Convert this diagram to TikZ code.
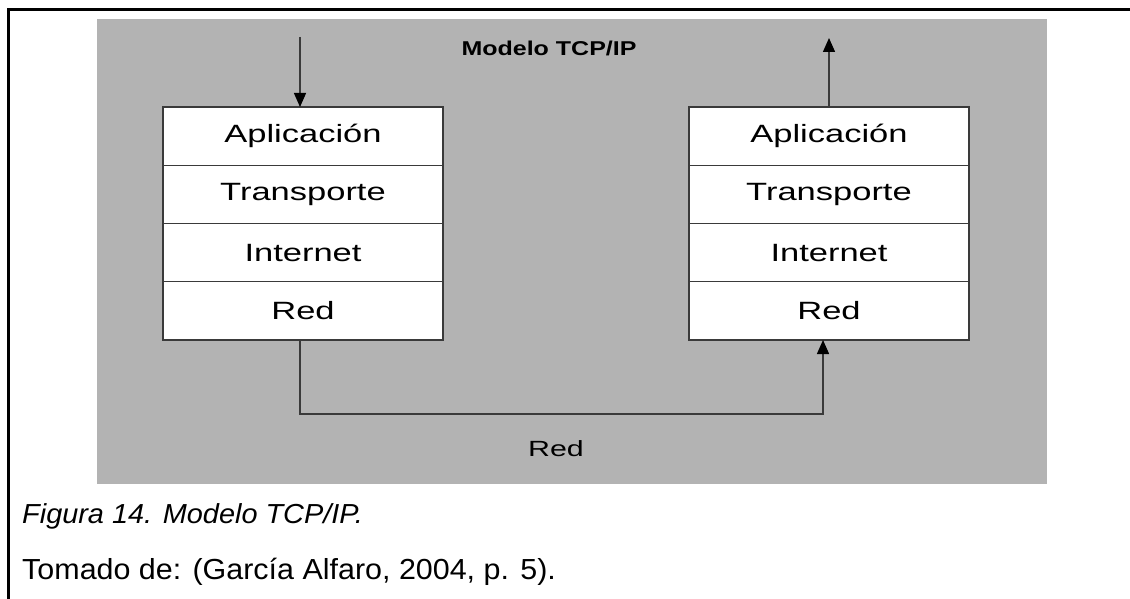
\documentclass[tikz,border=0pt]{standalone}
\usepackage{fontspec}
\setmainfont{Liberation Sans}
\newfontfamily\widesans[FakeStretch=1.38]{Liberation Sans}
\newfontfamily\titlesans[FakeStretch=1.25]{Liberation Sans}
\newfontfamily\capsans[FakeStretch=1.05]{Liberation Sans}
\usetikzlibrary{arrows.meta}
\definecolor{panelgray}{HTML}{B3B3B3}
\definecolor{edgegray}{HTML}{3A3A3A}
\begin{document}
\begin{tikzpicture}[x=1pt,y=-1pt,
  layer/.style={draw=edgegray, line width=1.4pt, fill=white,
    minimum width=280pt, minimum height=58.25pt, inner sep=0pt, outer sep=0pt,
    font=\widesans\fontsize{25}{25}\selectfont, text=black},
  flow/.style={draw=edgegray, line width=1.4pt},
  tip/.style={-{Triangle[length=14pt,width=12pt,fill=black,color=black]}},
  frameline/.style={line width=3pt, line cap=rect}]
  \useasboundingbox (0,0) rectangle (1130,599);
  % outer frame
  \draw[frameline] (8,599) -- (8,10) -- (1130,10);
  % panel
  \fill[panelgray] (97,19) rectangle (1047,484);
  \node[font=\titlesans\bfseries\fontsize{20}{20}\selectfont] (title) at (549,48) {Modelo TCP/IP};
  % left stack
  \node[layer, anchor=north west] (la) at (163,107) {Aplicación};
  \node[layer, anchor=north] (lt) at (la.south) {Transporte};
  \node[layer, anchor=north] (li) at (lt.south) {Internet};
  \node[layer, anchor=north] (lr) at (li.south) {Red};
  % right stack
  \node[layer, anchor=north west] (ra) at (689,107) {Aplicación};
  \node[layer, anchor=north] (rt) at (ra.south) {Transporte};
  \node[layer, anchor=north] (ri) at (rt.south) {Internet};
  \node[layer, anchor=north] (rr) at (ri.south) {Red};
  % connectors
  \coordinate (inL) at (300,37);
  \coordinate (outR) at (829,38);
  \draw[flow, tip] (inL) -- (inL |- la.north);
  \draw[flow, tip] (outR |- ra.north) -- (outR);
  \coordinate (dl) at (300,414);
  \coordinate (dr) at (823,414);
  \draw[flow, tip] (dl |- lr.south) -- (dl) -- (dr) -- (dr |- rr.south);
  \node[font=\widesans\fontsize{22}{22}\selectfont] (net) at (556,449) {Red};
  % caption
  \node[anchor=base west, inner sep=0pt, font=\capsans\itshape\fontsize{27.5}{27.5}\selectfont] (cap) at (22,523) {Figura 14. Modelo TCP/IP.};
  \node[anchor=base west, inner sep=0pt, font=\capsans\fontsize{29}{29}\selectfont] (src) at (22,579) {Tomado de: (García Alfaro, 2004, p. 5).};
\end{tikzpicture}
\end{document}
